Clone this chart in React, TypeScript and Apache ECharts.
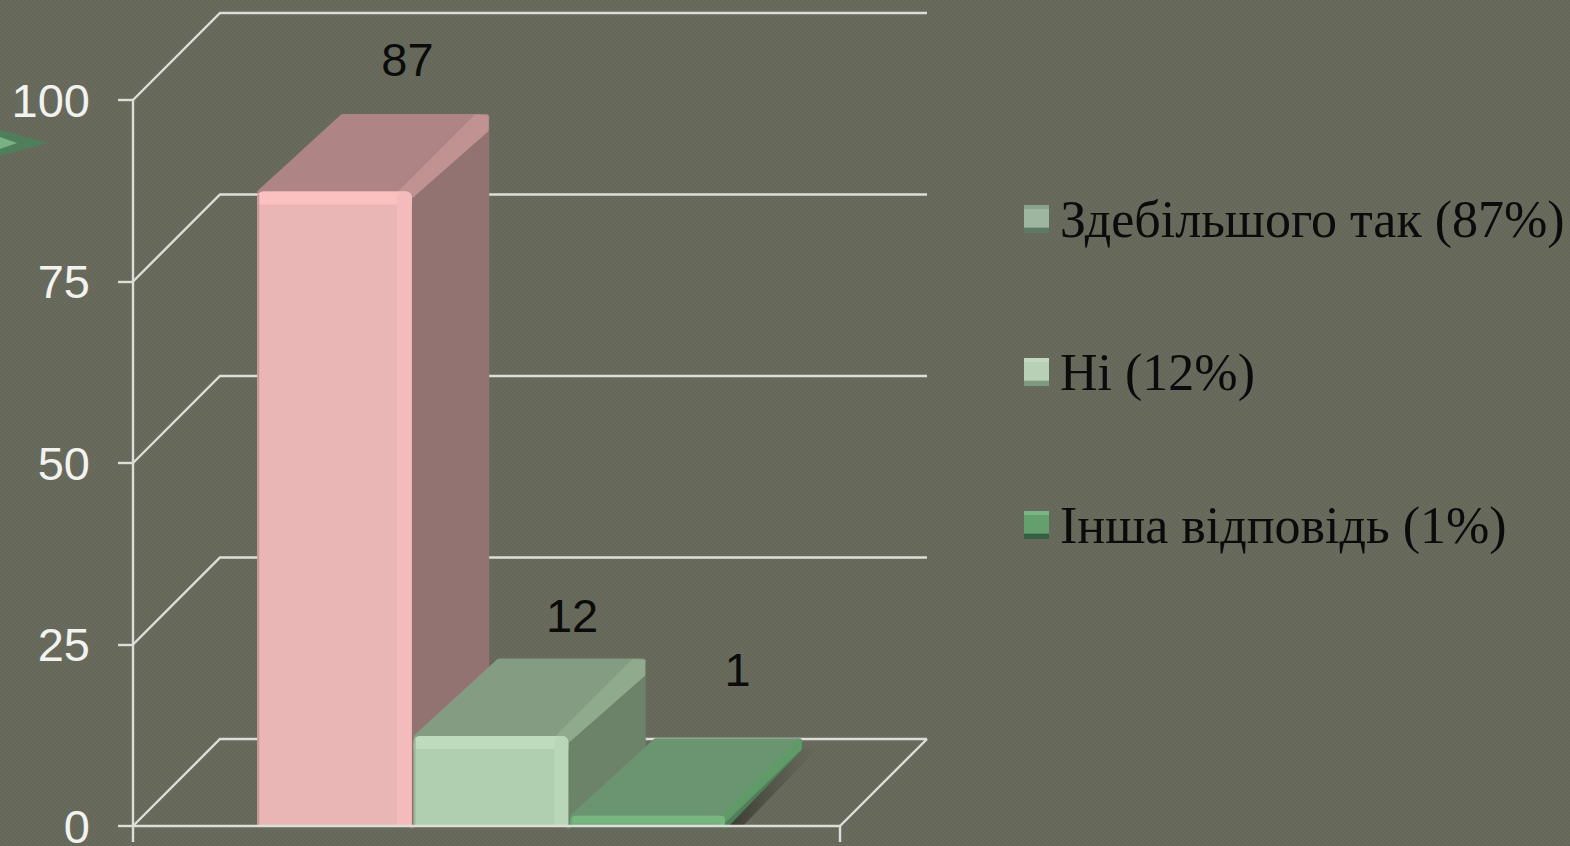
import React, { useEffect, useRef } from "react";
import * as echarts from "echarts";

const categories = [""];
const seriesNames = ["Здебільшого так (87%)", "Ні (12%)", "Інша відповідь (1%)"];
const mostlyYesValues = [87];
const noValues = [12];
const otherValues = [1];
const tickValues = [0, 25, 50, 75, 100];

const depthWall = 87;
const depthBar = 77.5;
const bevelLift = 3;
const lineColor = "#dedeD9";

const palettes = [
  { front: "#e9b5b5", bevel: "#fbc0c0", sideBevel: "#f3bbbb", edge: "#c99696", top: "#ae8584", topBevel: "#c09392", side: "#937272", bevelW: 15, topW: 13 },
  { front: "#b0ceb0", bevel: "#bedcbd", sideBevel: "#b9d6b8", edge: "#9dbb9d", top: "#839c82", topBevel: "#90aa8e", side: "#6c8369", bevelW: 14, topW: 13 },
  { front: "#72b07a", bevel: "#78b680", sideBevel: "#78b680", edge: "#6aa572", top: "#6b9470", topBevel: "#5f9a68", side: "#4f7f57", bevelW: 6, topW: 7 },
];
const labelOffsets = [
  { dx: 73, dy: -132 },
  { dx: 81, dy: -120 },
  { dx: 90, dy: -146 },
];

const poly = (points: number[][], fill: any, z2 = 0, lw = 1) => ({
  type: "polygon",
  z2,
  silent: true,
  shape: { points },
  style: { fill, stroke: lw ? fill : "none", lineWidth: lw, lineJoin: "round" },
});
const box = (x: number, y: number, width: number, height: number, fill: any, r: any = 0, z2 = 0) => ({
  type: "rect",
  z2,
  silent: true,
  shape: { x, y, width, height, r },
  style: { fill },
});

const wallRender = (_: any, api: any) => {
  const [cx, y] = api.coord([0, api.value(1)]);
  const band = api.size([1, 0])[0];
  const left = cx - band / 2;
  const right = cx + band / 2;
  const style = { stroke: lineColor, lineWidth: 2.4, fill: "none" };
  const children: any[] = [
    {
      type: "polyline",
      silent: true,
      shape: { points: [[left, y], [left + depthWall, y - depthWall], [right + depthWall, y - depthWall]] },
      style,
    },
  ];
  if (api.value(1) === 0) {
    children.push({
      type: "line",
      silent: true,
      shape: { x1: right, y1: y, x2: right + depthWall, y2: y - depthWall },
      style,
    });
  }
  return { type: "group", children };
};

const barRender = (index: number) => (_: any, api: any) => {
  const value = api.value(1);
  const top = api.coord([0, value])[1] - bevelLift;
  const cx = api.coord([0, value])[0];
  const base = api.coord([0, 0])[1];
  const band = api.size([1, 0])[0];
  const w = band * 0.2185;
  const pitch = band * 0.2214;
  const x = cx + band * 0.0064 + (index - 1) * pitch - w / 2;
  const h = base - top;
  const d = depthBar;
  const p = palettes[index];
  const shadow = new echarts.graphic.LinearGradient(0, 0, 1, 0, [
    { offset: 0, color: "rgba(30,30,25,0.7)" },
    { offset: 1, color: "rgba(60,60,50,0)" },
  ]);
  const label = labelOffsets[index];
  const bx = p.bevelW;
  return {
    type: "group",
    children: [
      poly([[x + w - 6, base], [x + w + d, base - d], [x + w + d + 16, base - d], [x + w + 18, base]], shadow, 0, 0),
      poly([[x + w + 2, top + 4], [x + w + d - 3, top - d + 5], [x + w + d - 3, base - d], [x + w, base]], p.side, 1, 6),
      poly([[x + 3, top + 1], [x + w, top + 1], [x + w + d - 3, top - d + 3], [x + d + 8, top - d + 3]], p.top, 2, 6),
      poly([[x + w - bx + 4, top + 1], [x + w, top + 4], [x + w + d - 3, top - d + 3 + p.topW], [x + w + d - 3, top - d + 4], [x + w + d - bx + 2, top - d + 3]], p.topBevel, 3, 5),
      box(x, top, w, h, p.front, [6, 6, 0, 0], 4),
      box(x, top, w, Math.min(p.topW, h), p.bevel, [6, 6, 0, 0], 5),
      box(x + w - bx, top, bx, h, p.sideBevel, [6, 6, 0, 0], 5),
      box(x, top + 3, 2, Math.max(h - 3, 0), p.edge, 0, 6),
      {
        type: "text",
        silent: true,
        z2: 7,
        style: {
          text: String(value),
          x: x + w / 2 + label.dx,
          y: top + label.dy,
          align: "center",
          verticalAlign: "middle",
          fill: "#0b0b0b",
          font: '47px "Liberation Sans"',
        },
      },
    ],
  };
};

const legendFill = (light: string, mid: string, dark: string) =>
  new echarts.graphic.LinearGradient(0, 0, 0, 1, [
    { offset: 0, color: light },
    { offset: 0.14, color: light },
    { offset: 0.15, color: mid },
    { offset: 0.8, color: mid },
    { offset: 0.81, color: dark },
    { offset: 1, color: dark },
  ]);

const legendColors = [
  legendFill("#8aa38d", "#9eb5a0", "#5f7a64"),
  legendFill("#c4d8c2", "#b8d0b6", "#7f9a80"),
  legendFill("#7ab585", "#63a06e", "#35603f"),
];

const seriesValues = [mostlyYesValues, noValues, otherValues];

export default function App() {
  const ref = useRef<HTMLDivElement>(null);
  useEffect(() => {
    const chart = echarts.init(ref.current!, undefined, { renderer: "svg" });
    chart.setOption({
      animation: false,
      backgroundColor: "transparent",
      grid: { left: 133, right: 730, top: 100, bottom: 20, containLabel: false, outerBoundsMode: "none" },
      legend: {
        orient: "vertical",
        left: 1024,
        top: 188,
        padding: 0,
        icon: "rect",
        itemWidth: 25,
        itemHeight: 28,
        itemGap: 91,
        selectedMode: false,
        data: seriesNames.map((name, i) => ({ name, itemStyle: { color: legendColors[i] } })),
        textStyle: {
          color: "#0b0b0b",
          fontFamily: "Liberation Serif",
          fontSize: 52,
          lineHeight: 58,
          padding: [4, 0, 0, 6],
        },
      },
      xAxis: {
        type: "category",
        data: categories,
        z: 10,
        axisLine: { show: true, onZero: false, lineStyle: { color: lineColor, width: 2.4 } },
        axisTick: { show: true, length: 16, lineStyle: { color: lineColor, width: 2.4 } },
        axisLabel: { show: false },
        splitLine: { show: false },
      },
      yAxis: {
        type: "value",
        min: 0,
        max: 100,
        interval: 25,
        z: 10,
        axisLine: { show: true, lineStyle: { color: lineColor, width: 2.4 } },
        axisTick: { show: true, length: 15, lineStyle: { color: lineColor, width: 2.4 } },
        axisLabel: { margin: 43, color: "#f2f2ef", fontFamily: "Liberation Sans", fontSize: 47, lineHeight: 36 },
        splitLine: { show: false },
      },
      graphic: [
        {
          type: "polygon",
          silent: true,
          shape: { points: [[0, 130], [48, 143], [0, 156]] },
          style: { fill: "#4f7f5a" },
        },
        {
          type: "polygon",
          silent: true,
          shape: { points: [[0, 137], [17, 143], [0, 149]] },
          style: { fill: "#79b184" },
        },
      ],
      series: [
        {
          type: "custom",
          name: "wall",
          z: 1,
          silent: true,
          renderItem: wallRender,
          encode: { x: 0, y: 1 },
          data: tickValues.map((v) => [0, v]),
        },
        ...seriesNames.map((name, i) => ({
          type: "custom",
          name,
          z: 2 + i,
          silent: true,
          renderItem: barRender(i),
          encode: { x: 0, y: 1 },
          data: seriesValues[i].map((v, c) => [c, v]),
        })),
      ],
    });
    return () => chart.dispose();
  }, []);
  return (
    <div
      style={{
        position: "fixed",
        left: 0,
        top: 0,
        width: 1570,
        height: 846,
        backgroundColor: "#67695b",
        backgroundImage: "repeating-conic-gradient(#696b5c 0 25%, #65675a 0 50%)",
        backgroundSize: "4px 4px",
      }}
    >
      <div ref={ref} style={{ width: 1570, height: 846 }} />
    </div>
  );
}
